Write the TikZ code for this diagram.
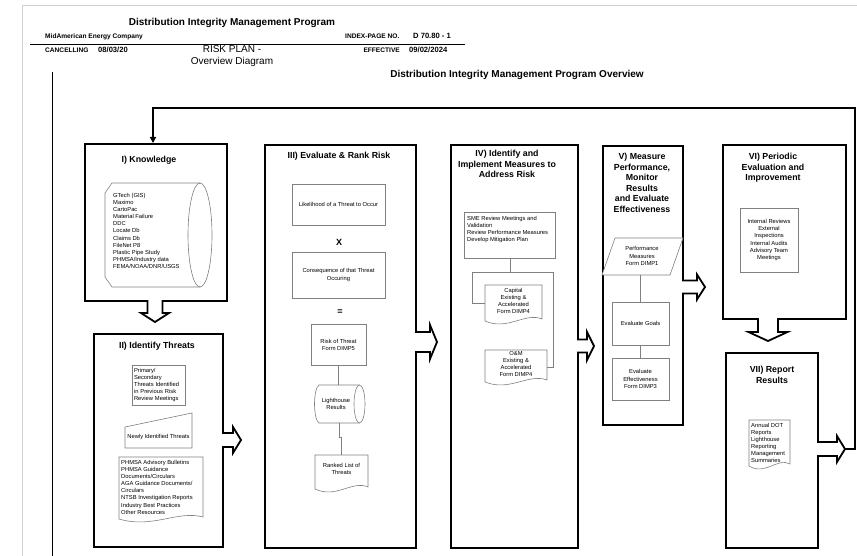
\documentclass[tikz,border=0pt]{standalone}
\usepackage{fontspec}
\setmainfont{Liberation Sans}
\usetikzlibrary{arrows.meta}
\tikzset{
  bigbox/.style={draw=black, line width=1.8pt, fill=white, inner sep=0pt},
  inbox/.style={draw=black!50, line width=0.6pt, fill=white},
  inshape/.style={draw=black!50, line width=0.6pt},
  conn/.style={draw=black!50, line width=0.6pt},
  ttl/.style={font=\fontsize{8.8}{10.5}\selectfont\bfseries, align=center, inner sep=0pt},
  smtxt/.style={font=\fontsize{5.8}{7.1}\selectfont, inner sep=0pt},
  hsm/.style={font=\fontsize{6.6}{8}\selectfont\bfseries, inner sep=0pt},
  hval/.style={font=\fontsize{7.6}{9}\selectfont\bfseries, inner sep=0pt},
  hbig/.style={font=\fontsize{10}{12}\selectfont\bfseries, inner sep=0pt},
  hreg/.style={font=\fontsize{10}{12}\selectfont, inner sep=0pt},
  barrow/.style={draw=black, line width=1.8pt},
  fb/.style={draw=black, line width=2.3pt, -{Triangle[length=6pt,width=6pt]}},
}
% document shape: x1, ytop, x2, ybase
\newcommand{\mydoc}[4]{%
  \draw[inshape, fill=white] (#1,#4) -- (#1,#2) -- (#3,#2) -- (#3,{#4-2})
    .. controls ({#3-0.3*(#3-#1)},{#4-9}) and ({#1+0.4*(#3-#1)},{#4+10}) .. (#1,#4) -- cycle;}
% right block arrow: box edge x, yc, shaft half, head half, base x, tip x
\newcommand{\rblock}[6]{%
  \fill[white] ({#1-1.6},{#2-#3}) rectangle ({#1+1.6},{#2+#3});
  \draw[barrow] (#1,{#2-#3}) -- (#5,{#2-#3}) -- (#5,{#2-#4}) -- (#6,#2)
     -- (#5,{#2+#4}) -- (#5,{#2+#3}) -- (#1,{#2+#3});}
% down block arrow: box edge y, xc, shaft half, head half, base y, tip y
\newcommand{\dblock}[6]{%
  \fill[white] ({#2-#3},{#1-1.6}) rectangle ({#2+#3},{#1+1.6});
  \draw[barrow] ({#2-#3},#1) -- ({#2-#3},#5) -- ({#2-#4},#5) -- (#2,#6)
     -- ({#2+#4},#5) -- ({#2+#3},#5) -- ({#2+#3},#1);}
\begin{document}
\begin{tikzpicture}[x=1pt,y=-1pt]
\useasboundingbox (0,0) rectangle (857,556);
\fill[white] (0,0) rectangle (857,556);
% page edge
\draw[black!18, line width=0.8pt] (22,556) -- (22,5) -- (857,5);
% header
\node[hbig, anchor=base] (h1) at (232,26) {Distribution Integrity Management Program};
\node[hsm, anchor=base west] (h2) at (45,39) {MidAmerican Energy Company};
\node[hsm, anchor=base west] (h3) at (345,39) {INDEX-PAGE NO.};
\node[hval, anchor=base west] (h4) at (413,39) {D 70.80 - 1};
\draw[line width=0.8pt] (30,44) -- (465,44);
\node[hsm, anchor=base west] (h5) at (45,53) {CANCELLING};
\node[hval, anchor=base west] (h6) at (98,53) {08/03/20};
\node[hreg, anchor=base] (h7) at (232,53) {RISK PLAN -};
\node[hreg, anchor=base] (h8) at (232,65) {Overview Diagram};
\node[hsm, anchor=base east] (h9) at (400,53) {EFFECTIVE};
\node[hval, anchor=base west] (h10) at (409,53) {09/02/2024};
\draw[line width=1pt] (52,72) -- (52,556);
\node[hbig, anchor=base] (ov) at (517,78) {Distribution Integrity Management Program Overview};

% big boxes
\node[bigbox, anchor=north west, minimum width=142pt, minimum height=157pt] (k) at (84,143) {};
\node[bigbox, anchor=north west, minimum width=129pt, minimum height=213pt] (it) at (93,333) {};
\node[bigbox, anchor=north west, minimum width=151pt, minimum height=403pt] (ev) at (264,144) {};
\node[bigbox, anchor=north west, minimum width=127pt, minimum height=403pt] (im) at (450,144) {};
\node[bigbox, anchor=north west, minimum width=80pt, minimum height=279pt] (ms) at (602,145) {};
\node[bigbox, anchor=north west, minimum width=123pt, minimum height=174pt] (pe) at (722,144) {};
\node[bigbox, anchor=north west, minimum width=92pt, minimum height=195pt] (rp) at (725,352) {};

% titles
\node[ttl] (t1) at (149,160) {I) Knowledge};
\node[ttl] (t2) at (157,346) {II) Identify Threats};
\node[ttl] (t3) at (339,156) {III) Evaluate \& Rank Risk};
\node[ttl] (t4) at (507,164) {IV) Identify and\\Implement Measures to\\Address Risk};
\node[ttl] (t5) at (642,183) {V) Measure\\Performance,\\Monitor\\Results\\and Evaluate\\Effectiveness};
\node[ttl] (t6) at (773,168) {VI) Periodic\\Evaluation and\\Improvement};
\node[ttl] (t7) at (772,375) {VII) Report\\Results};

% I) Knowledge cylinder
\draw[inshape] (200,183) -- (112,183) -- (105,193) -- (105,277) -- (112,287) -- (200,287);
\draw[inshape] (200,235) ellipse [x radius=12, y radius=52];
\node[smtxt, anchor=north west, align=left] (klist) at (113,193)
 {GTech (GIS)\\Maximo\\CartoPac\\Material Failure\\DDC\\Locate Db\\Claims Db\\FileNet P8\\Plastic Pipe Study\\PHMSA/Industry data\\FEMA/NOAA/DNR/USGS};

% II) Identify Threats
\node[inbox, smtxt, text width=49pt, align=left, minimum width=53pt, minimum height=40pt, inner sep=2pt] (prim) at (158.5,385)
 {Primary/\\Secondary\\Threats Identified\\in Previous Risk\\Review Meetings};
\draw[inshape] (125,427) -- (192,413) -- (192,448) -- (125,448) -- cycle;
\node[smtxt] (newly) at (158.5,437) {Newly Identified Threats};
\mydoc{119}{457}{203}{519}
\node[smtxt, anchor=north west, align=left] (phmsa) at (121,460)
 {PHMSA Advisory Bulletins\\PHMSA Guidance\\Documents/Circulars\\AGA Guidance Documents/\\Circulars\\NTSB Investigation Reports\\Industry Best Practices\\Other Resources};

% III) Evaluate & Rank Risk
\node[inbox, smtxt, align=center, minimum width=93pt, minimum height=41pt] (lik) at (338.5,204.5) {Likelihood of a Threat to Occur};
\node[font=\fontsize{9}{10}\selectfont\bfseries, inner sep=0pt] (xx) at (339,242) {X};
\node[inbox, smtxt, align=center, minimum width=93pt, minimum height=46pt] (con) at (338.5,275) {Consequence of that Threat\\Occuring};
\node[font=\fontsize{9}{10}\selectfont\bfseries, inner sep=0pt] (eq) at (340,312) {=};
\node[inbox, smtxt, align=center, minimum width=55pt, minimum height=41pt] (risk) at (338.5,344.5) {Risk of Threat\\Form DIMP5};
\draw[inshape] (359.5,385) -- (319,385) .. controls (313,389) and (313,419) .. (319,423) -- (359.5,423);
\draw[inshape] (359.5,404) ellipse [x radius=5.5, y radius=19];
\node[smtxt, align=center] (lh) at (336,404) {Lighthouse\\Results};
\coordinate (lhN) at (339,385);
\coordinate (lhS) at (339,423);
\coordinate (rankN) at (341,455);
\mydoc{315}{455}{368}{489}
\node[smtxt, align=center] (rank) at (341.5,469) {Ranked List of\\Threats};
\draw[conn] (risk.south) -- (risk.south |- lhN);
\draw[conn] (lhS) -- ++(0,14) -- ++(2,0) -- (rankN);

% IV) Identify and Implement
\node[inbox, anchor=north west, minimum width=91pt, minimum height=46pt] (sme) at (464,212) {};
\node[smtxt, anchor=north west, align=left] (smet) at (467,216)
 {SME Review Meetings and\\Validation\\Review Performance Measures\\Develop Mitigation Plan};
\coordinate (br) at (510,272);
\coordinate (d1W) at (485,303);
\coordinate (d2E) at (547,367);
\draw[conn] (sme.south) -- (sme.south |- br);
\draw[conn] (d1W) -| (472,272) -- (553,272) |- (d2E);
\mydoc{485}{285}{542}{321}
\node[smtxt, align=center] (cap) at (513.5,301) {Capital\\Existing \&\\Accelerated\\Form DIMP4};
\mydoc{485}{350}{547}{382}
\node[smtxt, align=center] (om) at (516,364) {O\&M\\Existing \&\\Accelerated\\Form DIMP4};

% V) Measure
\draw[inshape, fill=white] (615,238) -- (683,238) -- (670,275) -- (602,275) -- cycle;
\node[smtxt, align=center] (perf) at (642,256) {Performance\\Measures\\Form DIMP1};
\coordinate (pS) at (640.5,275);
\node[inbox, smtxt, minimum width=57pt, minimum height=43pt] (goals) at (640.5,323.5) {Evaluate Goals};
\node[inbox, smtxt, align=center, minimum width=57pt, minimum height=42pt] (effe) at (640.5,379) {Evaluate\\Effectiveness\\Form DIMP3};
\draw[conn] (pS) -- (goals.north);
\draw[conn] (goals) -- (effe);

% VI) Periodic
\node[inbox, smtxt, align=center, minimum width=58pt, minimum height=64pt] (rev) at (769,240)
 {Internal Reviews\\External\\Inspections\\Internal Audits\\Advisory Team\\Meetings};

% VII) Report
\mydoc{749}{420}{790}{466}
\node[smtxt, anchor=north west, align=left] (ann) at (751,423)
 {Annual DOT\\Reports\\Lighthouse\\Reporting\\Management\\Summaries};

% block arrows
\dblock{300}{155}{7.5}{14}{313}{322}
\rblock{222}{440}{7}{13}{233}{241}
\rblock{415}{342}{10}{17}{430}{437}
\rblock{577}{346}{6.5}{14}{587}{594}
\rblock{682}{287}{6.5}{12.5}{697}{705}
\dblock{318}{768}{10}{19.5}{332}{341}
\rblock{817}{449}{7}{13}{837}{845}

% feedback loop
\coordinate (fbs) at (845,449);
\coordinate (fbc) at (153,108);
\draw[fb] (fbs) -- (855,449) -- (855,108) -- (fbc) -- (k.north -| fbc);
\end{tikzpicture}
\end{document}
